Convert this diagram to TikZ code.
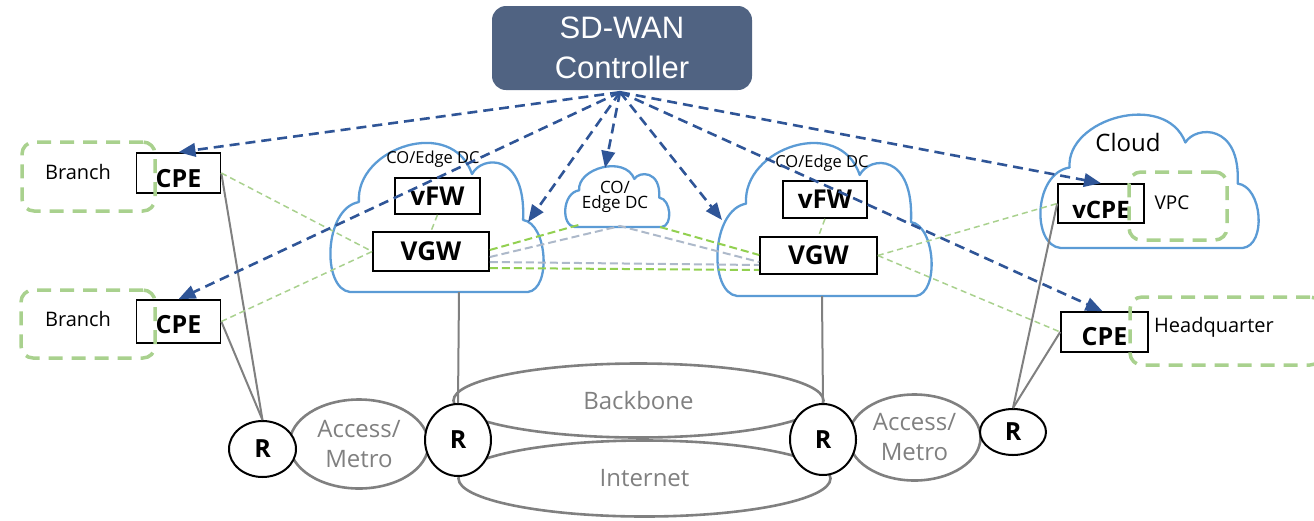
\documentclass[tikz,border=0pt]{standalone}
\usepackage{fontspec}
\setmainfont{Open Sans}
\newfontfamily\ctrlfont{Liberation Sans}
\usetikzlibrary{arrows.meta,shapes.geometric,calc}
\definecolor{ctrlfill}{RGB}{80,99,130}
\definecolor{ctrlblue}{RGB}{47,85,151}
\definecolor{cloudblue}{RGB}{91,155,213}
\definecolor{grpgreen}{RGB}{169,209,142}
\definecolor{linkgreen}{RGB}{146,208,80}
\definecolor{linkgray}{RGB}{173,185,202}
\definecolor{wire}{RGB}{128,128,128}
\definecolor{nettext}{RGB}{128,128,128}
\tikzset{
  cloudline/.style={draw=cloudblue, line width=2.3pt, fill=white, line join=round},
  cloudpic/.pic={
    \draw[cloudline] (0.095,1)
      .. controls (-0.04,0.98) and (-0.03,0.45) .. (0.137,0.408)
      .. controls (0.12,0.05) and (0.58,-0.16) .. (0.673,0.224)
      .. controls (0.72,0.10) and (0.93,0.08) .. (0.915,0.526)
      .. controls (1.03,0.55) and (1.05,0.98) .. (0.938,1) -- cycle;
  },
  ctrlbox/.style={fill=ctrlfill, rounded corners=14pt, minimum width=260pt,
    minimum height=84pt, text=white, align=center, inner sep=0pt,
    font=\ctrlfont\fontsize{31}{40}\selectfont},
  box/.style={draw=black, line width=1.6pt, fill=white, inner sep=0pt,
    text depth=0pt, font=\fontsize{25}{30}\selectfont\bfseries},
  rnode/.style={ellipse, draw=black, line width=2pt, fill=white, inner sep=0pt,
    font=\fontsize{25}{30}\selectfont\bfseries},
  ring/.style={ellipse, draw=wire, line width=2.6pt, inner sep=0pt, text=nettext,
    align=center, font=\fontsize{24}{30}\selectfont},
  grp/.style={draw=grpgreen, line width=3.5pt, dash pattern=on 14pt off 9pt,
    rounded corners=12pt, inner sep=0pt},
  lbl/.style={inner sep=0pt, font=\fontsize{20}{24}\selectfont},
  dclbl/.style={inner sep=0pt, font=\fontsize{16.5}{20}\selectfont},
  wireline/.style={draw=wire, line width=2pt},
  lg/.style={draw=grpgreen, line width=1.5pt, dash pattern=on 6pt off 4pt},
  bg/.style={draw=linkgreen, line width=2pt, dash pattern=on 8pt off 4pt},
  gb/.style={draw=linkgray, line width=2pt, dash pattern=on 8pt off 4pt},
  ctl/.style={draw=ctrlblue, line width=2.6pt, dash pattern=on 10pt off 6pt,
    -{Triangle[length=17pt,width=13.5pt]}},
}
\begin{document}
\begin{tikzpicture}[x=1pt,y=-1pt]
\useasboundingbox (0,0) rectangle (1314,520);

% transport networks
\node[ring, minimum width=139pt, minimum height=89pt] (accL) at (359,444) {Access/\\Metro};
\node[ring, minimum width=370pt, minimum height=74pt] (bb) at (638.5,400.5) {Backbone};
\node[ring, minimum width=372pt, minimum height=76pt] (inet) at (644.5,478.5) {Internet};
\node[ring, minimum width=132pt, minimum height=86pt] (accR) at (914.5,437.5) {Access/\\Metro};

% edge data centres and public cloud
\pic (dcL) [xscale=211, yscale=152] at (330,140) {cloudpic};
\pic (dcM) [xscale=103, yscale=62] at (565,165) {cloudpic};
\pic (dcR) [xscale=212, yscale=156] at (717,140) {cloudpic};
\pic (pub) [xscale=216, yscale=136] at (1040,112) {cloudpic};

\node[dclbl] (dcLlbl) at (433,159) {CO/Edge DC};
\node[dclbl] (dcRlbl) at (822,163) {CO/Edge DC};
\node[dclbl, align=center, font=\fontsize{17}{14.5}\selectfont] (dcMlbl) at (615,197) {CO/\\Edge DC};
\node[inner sep=0pt, font=\fontsize{24}{28}\selectfont] (publbl) at (1128,142) {Cloud};

% attachment points on the cloud outlines
\coordinate (cLin) at (528,222);
\coordinate (cMtop) at (605,168);
\coordinate (cRin) at (722,220);
\coordinate (cLfoot) at (459,292);
\coordinate (cRfoot) at (822,296);
\coordinate (cMa) at (582,224);
\coordinate (cMb) at (620,226);
\coordinate (cMc) at (660,227);

% controller
\node[ctrlbox] (ctrl) at (622,48) {SD-WAN\\Controller};
\coordinate (hub) at ($(ctrl.south)+(-2,2)$);

% routers
\node[rnode, minimum width=67pt, minimum height=56pt] (r1) at (262.5,449) {R};
\node[rnode, minimum width=66pt, minimum height=72pt] (r2) at (458,440) {R};
\node[rnode, minimum width=66pt, minimum height=71pt] (r3) at (823,439.5) {R};
\node[rnode, minimum width=66pt, minimum height=46pt] (r4) at (1013,432) {R};

% devices
\node[box, minimum width=84pt, minimum height=40pt, text height=28pt] (cpe1) at (178.5,173) {CPE};
\node[box, minimum width=84pt, minimum height=43pt, text height=23pt] (cpe2) at (178.5,321.5) {CPE};
\node[box, minimum width=85pt, minimum height=36pt, font=\fontsize{26}{30}\selectfont\bfseries] (vfwL) at (437.5,196) {vFW};
\node[box, minimum width=116pt, minimum height=39pt, font=\fontsize{26}{30}\selectfont\bfseries] (vgwL) at (431,251.5) {VGW};
\node[box, minimum width=84pt, minimum height=37pt, font=\fontsize{26}{30}\selectfont\bfseries] (vfwR) at (825,199.5) {vFW};
\node[box, minimum width=117pt, minimum height=37pt, font=\fontsize{26}{30}\selectfont\bfseries] (vgwR) at (818.5,255.5) {VGW};
\node[box, minimum width=86pt, minimum height=39pt, text height=30pt, font=\fontsize{24}{30}\selectfont\bfseries] (vcpe) at (1101,203.5) {vCPE};
\node[box, minimum width=87pt, minimum height=40pt, text height=26pt] (cpe3) at (1104.5,332) {CPE};

% sites
\node[grp, minimum width=133pt, minimum height=69pt] (brg1) at (88.5,176.5) {};
\node[grp, minimum width=134pt, minimum height=68pt] (brg2) at (88,324) {};
\node[grp, minimum width=98pt, minimum height=68pt] (vpcg) at (1178,206) {};
\node[grp, minimum width=192pt, minimum height=68pt] (hqg) at (1226,331) {};
\node[lbl] (brl1) at (78,172) {Branch};
\node[lbl] (brl2) at (78,319) {Branch};
\node[lbl, font=\fontsize{19}{24}\selectfont] (vpcl) at (1172,203) {VPC};
\node[lbl] (hql) at (1214,327) {Headquarter};

% physical access links
\draw[wireline] (cpe1.east) -- (r1.north);
\draw[wireline] (cpe2.east) -- (r1.north);
\draw[wireline] (cLfoot) -- (r2.north);
\draw[wireline] (cRfoot) -- (r3.north);
\draw[wireline] (vcpe.west) -- (r4.north);
\draw[wireline] (cpe3.west) -- (r4.north);

% overlay tunnels
\draw[lg] (cpe1.east) -- (vgwL.west);
\draw[lg] (cpe2.east) -- (vgwL.west);
\draw[lg] (vfwL.south) -- (vgwL.north);
\draw[lg] (vfwR.south) -- (vgwR.north);
\draw[lg] (vgwR.east) -- (vcpe.west);
\draw[lg] (vgwR.east) -- (cpe3.west);

\draw[bg] ($(vgwL.east)+(0,-1.5)$) -- (cMa);
\draw[bg] (cMc) -- ($(vgwR.west)+(0,-0.5)$);
\draw[bg] ($(vgwL.east)+(0,16.5)$) -- ($(vgwR.west)+(0,14.5)$);
\draw[gb] ($(vgwL.east)+(0,5.5)$) -- (cMb) -- ($(vgwR.west)+(0,6.5)$);
\draw[gb] ($(vgwL.east)+(0,10.5)$) -- ($(vgwR.west)+(0,9.5)$);

% control channels
\draw[ctl] (hub) -- (cpe1.north);
\draw[ctl] (hub) -- (cpe2.north);
\draw[ctl] (hub) -- (cLin);
\draw[ctl] (hub) -- (cMtop);
\draw[ctl] (hub) -- (cRin);
\draw[ctl] (hub) -- (vcpe.north);
\draw[ctl] (hub) -- ($(cpe3.north)+(-2,0)$);
\end{tikzpicture}
\end{document}
